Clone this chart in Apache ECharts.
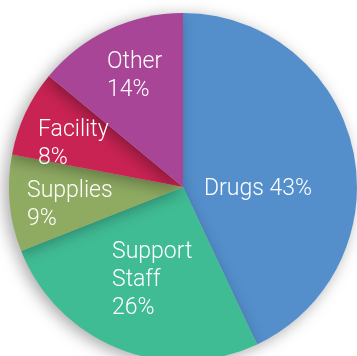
<!DOCTYPE html>
<html>
<head>
<meta charset="utf-8">
<script src="https://cdn.jsdelivr.net/npm/echarts@6/dist/echarts.min.js"></script>
<style>
  html, body { margin: 0; padding: 0; background: #fff; }
  #chart { width: 357px; height: 356px; }
</style>
</head>
<body>
<div id="chart"></div>
<script>
// 支出构成
const categories = ["Drugs", "Support Staff", "Supplies", "Facility", "Other"];
const shares = [43, 26, 9, 8, 14]; // %
const labelNames = ["Drugs", "Support\nStaff", "Supplies", "Facility", "Other"];
const colors = ["#548fcc", "#40bc94", "#8fab62", "#c92353", "#a84597"];

// label anchor (left x, middle y) for each slice
const labelAt = [[204, 189], [112, 280], [27, 205], [38, 144], [107, 76]];

const chart = echarts.init(document.getElementById("chart"));

const option = {
  animation: false,
  series: [
    {
      type: "pie",
      center: [183, 187],
      radius: 174,
      startAngle: 90,
      clockwise: true,
      data: categories.map((c, i) => ({
        name: c,
        value: shares[i],
        itemStyle: { color: colors[i] }
      })),
      itemStyle: {
        borderWidth: 0,
        shadowBlur: 16,
        shadowColor: "rgba(0,0,0,0.35)",
        shadowOffsetX: -4,
        shadowOffsetY: 3
      },
      label: {
        position: "inside",
        color: "#fff",
        fontFamily: "Roboto",
        fontWeight: 300,
        fontSize: 23,
        lineHeight: 28,
        align: "left",
        formatter: p => {
          const n = labelNames[p.dataIndex];
          return p.dataIndex === 0 ? n + " " + p.value + "%" : n + "\n" + p.value + "%";
        }
      },
      labelLine: { show: false },
      labelLayout: p => ({
        x: labelAt[p.dataIndex][0],
        y: labelAt[p.dataIndex][1],
        align: "left",
        verticalAlign: "middle"
      }),
      emphasis: { disabled: true }
    }
  ]
};

chart.setOption(option);
window.addEventListener("resize", () => { chart.resize(); });
</script>
</body>
</html>
